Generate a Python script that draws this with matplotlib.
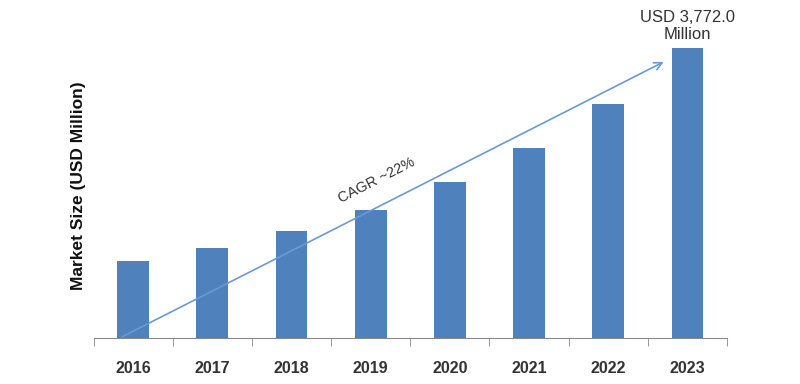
import matplotlib
matplotlib.use("Agg")
import matplotlib.pyplot as plt
import numpy as np

years = ["2016", "2017", "2018", "2019", "2020", "2021", "2022", "2023"]
market_size = [1002, 1171, 1392, 1665, 2029, 2471, 3044, 3772]

plt.rcParams['font.family'] = ['Liberation Sans', 'DejaVu Sans']

fig = plt.figure(figsize=(8, 3.84), dpi=100)
ax = fig.add_axes([0.1169, 0.1198, 0.7919, 0.828])

x = np.arange(len(years))
ax.bar(x, market_size, 0.4, color='#4F81BD', zorder=2)

ax.set_xlim(-0.5, len(years) - 0.5)
ax.set_ylim(0, 4134)

# cagr arrow
ax.annotate("", xy=(6.70, 3590), xytext=(-0.14, 15),
            arrowprops=dict(arrowstyle='->', color='#6A9AD4', lw=1.2,
                            mutation_scale=14, shrinkA=0, shrinkB=0),
            zorder=3)
ax.text(3.07, 2054, "CAGR ~22%", rotation=27, fontsize=10.5, color='#333333',
        ha='center', va='center')

ax.text(x[-1], 4056, "USD 3,772.0\nMillion", ha='center', va='center',
        fontsize=12, color='#333333', linespacing=1.1)

# axis styling
for s in ['top', 'right', 'left']:
    ax.spines[s].set_visible(False)
ax.spines['bottom'].set_color('#888888')
ax.set_yticks([])
ax.set_xticks(x)
ax.set_xticklabels(years, fontsize=11.5, fontweight='bold', color='#333333')
ax.tick_params(axis='x', which='major', length=0, pad=16.5)
ax.set_xticks(np.arange(-0.5, len(years)), minor=True)
ax.tick_params(axis='x', which='minor', length=6, color='#888888', direction='out')

fig.text(0.0975, 0.516, "Market Size (USD Million)", rotation=90, fontsize=12.5,
         fontweight='bold', ha='center', va='center', color='#111111')

fig.savefig("out.png", dpi=100)
